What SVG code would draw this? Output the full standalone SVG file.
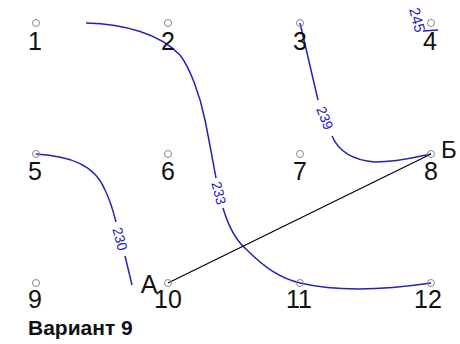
<svg xmlns="http://www.w3.org/2000/svg" width="460" height="344" viewBox="0 0 460 344">
<style>
.pt{fill:none;stroke:#888;stroke-width:1}
.lbl{font-family:"Liberation Sans",Arial,sans-serif;font-size:25px;fill:#111;text-anchor:middle}
.iso{fill:none;stroke:#2222bb;stroke-width:1.5}
.isol{font-family:"Liberation Sans",Arial,sans-serif;font-size:14px;fill:#2222bb;text-anchor:middle}
.ln{stroke:#000;stroke-width:1.2;fill:none}
</style>
<rect width="460" height="344" fill="#fff"/>
<g id="connectors">
<path class="iso" d="M86,23 C125,24 160,34 180,55 C190,68 200,95 205,120 C210,145 213,162 216,178"/>
<path class="iso" d="M223,208 C228,225 235,240 247,250 C265,268 280,278 300,283 C330,290 370,292 431,283"/>
<text class="isol" transform="translate(219,193) rotate(76)" dy="5">233</text>
<path class="iso" d="M300,23 L318,100"/>
<path class="iso" d="M332,136 C338,150 350,160 375,162 C400,162 420,156 431,154"/>
<text class="isol" transform="translate(325,118) rotate(68)" dy="5">239</text>
<path class="iso" d="M36,154 C70,156 95,165 105,190 C110,200 113,210 116,222"/>
<path class="iso" d="M125,256 L132,285"/>
<text class="isol" transform="translate(120,239) rotate(75)" dy="5">230</text>
<path class="iso" d="M423,31 L438,30"/>
<text class="isol" transform="translate(417,20) rotate(75)" dy="5" style="font-size:15px">245</text>
<path class="ln" d="M168,283 L431,154"/>
</g>
<g id="p1"><circle class="pt" cx="36" cy="23" r="3.5"/><text class="lbl" x="35" y="50">1</text></g>
<g id="p2"><circle class="pt" cx="168" cy="23" r="3.5"/><text class="lbl" x="168" y="50">2</text></g>
<g id="p3"><circle class="pt" cx="300" cy="23" r="3.5"/><text class="lbl" x="300" y="50">3</text></g>
<g id="p4"><circle class="pt" cx="431" cy="23" r="3.5"/><text class="lbl" x="430" y="50">4</text></g>
<g id="p5"><circle class="pt" cx="36" cy="154" r="3.5"/><text class="lbl" x="35" y="180">5</text></g>
<g id="p6"><circle class="pt" cx="168" cy="154" r="3.5"/><text class="lbl" x="168" y="180">6</text></g>
<g id="p7"><circle class="pt" cx="300" cy="154" r="3.5"/><text class="lbl" x="300" y="180">7</text></g>
<g id="p8"><circle class="pt" cx="431" cy="154" r="3.5"/><text class="lbl" x="431" y="180">8</text></g>
<g id="p9"><circle class="pt" cx="36" cy="283" r="3.5"/><text class="lbl" x="35" y="308">9</text></g>
<g id="p10"><circle class="pt" cx="168" cy="283" r="3.5"/><text class="lbl" x="168" y="308">10</text></g>
<g id="p11"><circle class="pt" cx="300" cy="283" r="3.5"/><text class="lbl" x="299" y="308">11</text></g>
<g id="p12"><circle class="pt" cx="431" cy="283" r="3.5"/><text class="lbl" x="428" y="308">12</text></g>
<text class="lbl" x="149" y="293">А</text>
<text class="lbl" x="441" y="158" style="text-anchor:start;font-size:24px">Б</text>
<text x="28" y="335" style="font-family:'Liberation Sans',Arial,sans-serif;font-size:21px;font-weight:bold;fill:#111">Вариант 9</text>
</svg>
